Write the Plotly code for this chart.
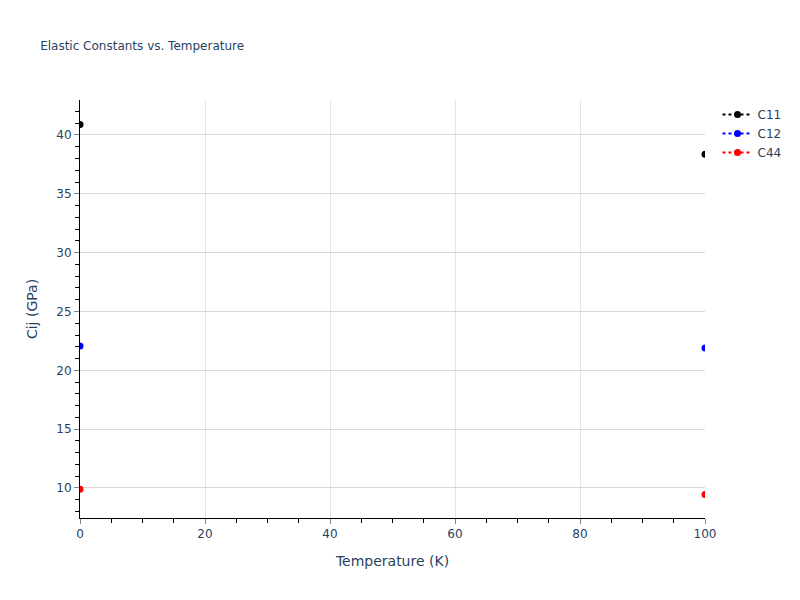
import plotly.graph_objects as go

# Datos
temperatures = [0, 100]
c11 = [40.88, 38.37]
c12 = [22.07, 21.9]
c44 = [9.9, 9.45]

series = [("C11", c11, "black"), ("C12", c12, "blue"), ("C44", c44, "red")]


def with_gaps(xs, ys):
    # los puntos aparecen sin línea entre ellos, así que se corta la línea
    gx, gy = [], []
    for i, (x, y) in enumerate(zip(xs, ys)):
        if i > 0:
            gx.append(None)
            gy.append(None)
        gx.append(x)
        gy.append(y)
    return gx, gy


fig = go.Figure()
for name, values, color in series:
    gx, gy = with_gaps(temperatures, values)
    fig.add_trace(go.Scatter(
        x=gx, y=gy, name=name, mode="lines+markers",
        line=dict(color=color, dash="dot", width=2),
        marker=dict(color=color, size=7),
        connectgaps=False,
    ))

fig.update_layout(
    template="plotly_white",
    width=784, height=584,
    title=dict(text="Elastic Constants vs. Temperature", x=0.041, y=0.942, font=dict(size=12)),
    margin=dict(l=72, r=87, t=92, b=74, autoexpand=False),
    legend=dict(x=1.02, y=1.0, font=dict(size=12)),
    font=dict(family="DejaVu Sans, Verdana, sans-serif", size=12),
)
fig.update_xaxes(
    title_text="Temperature (K)", range=[0, 100], dtick=20,
    title_font=dict(size=14),
    showline=True, linecolor="black", linewidth=1,
    ticks="outside", tickcolor="gray",
    minor=dict(dtick=5, ticks="outside", tickcolor="black", ticklen=4, showgrid=False),
    gridcolor="#e5e5e5", zeroline=False,
)
fig.update_yaxes(
    title_text="Cij (GPa)", range=[7.45, 42.97], dtick=5,
    title_font=dict(size=14),
    showline=True, linecolor="black", linewidth=1,
    ticks="outside", tickcolor="gray",
    minor=dict(dtick=1, ticks="outside", tickcolor="black", ticklen=4, showgrid=False),
    gridcolor="#d9d9d9", zeroline=False,
)

fig.write_html("out.html")
